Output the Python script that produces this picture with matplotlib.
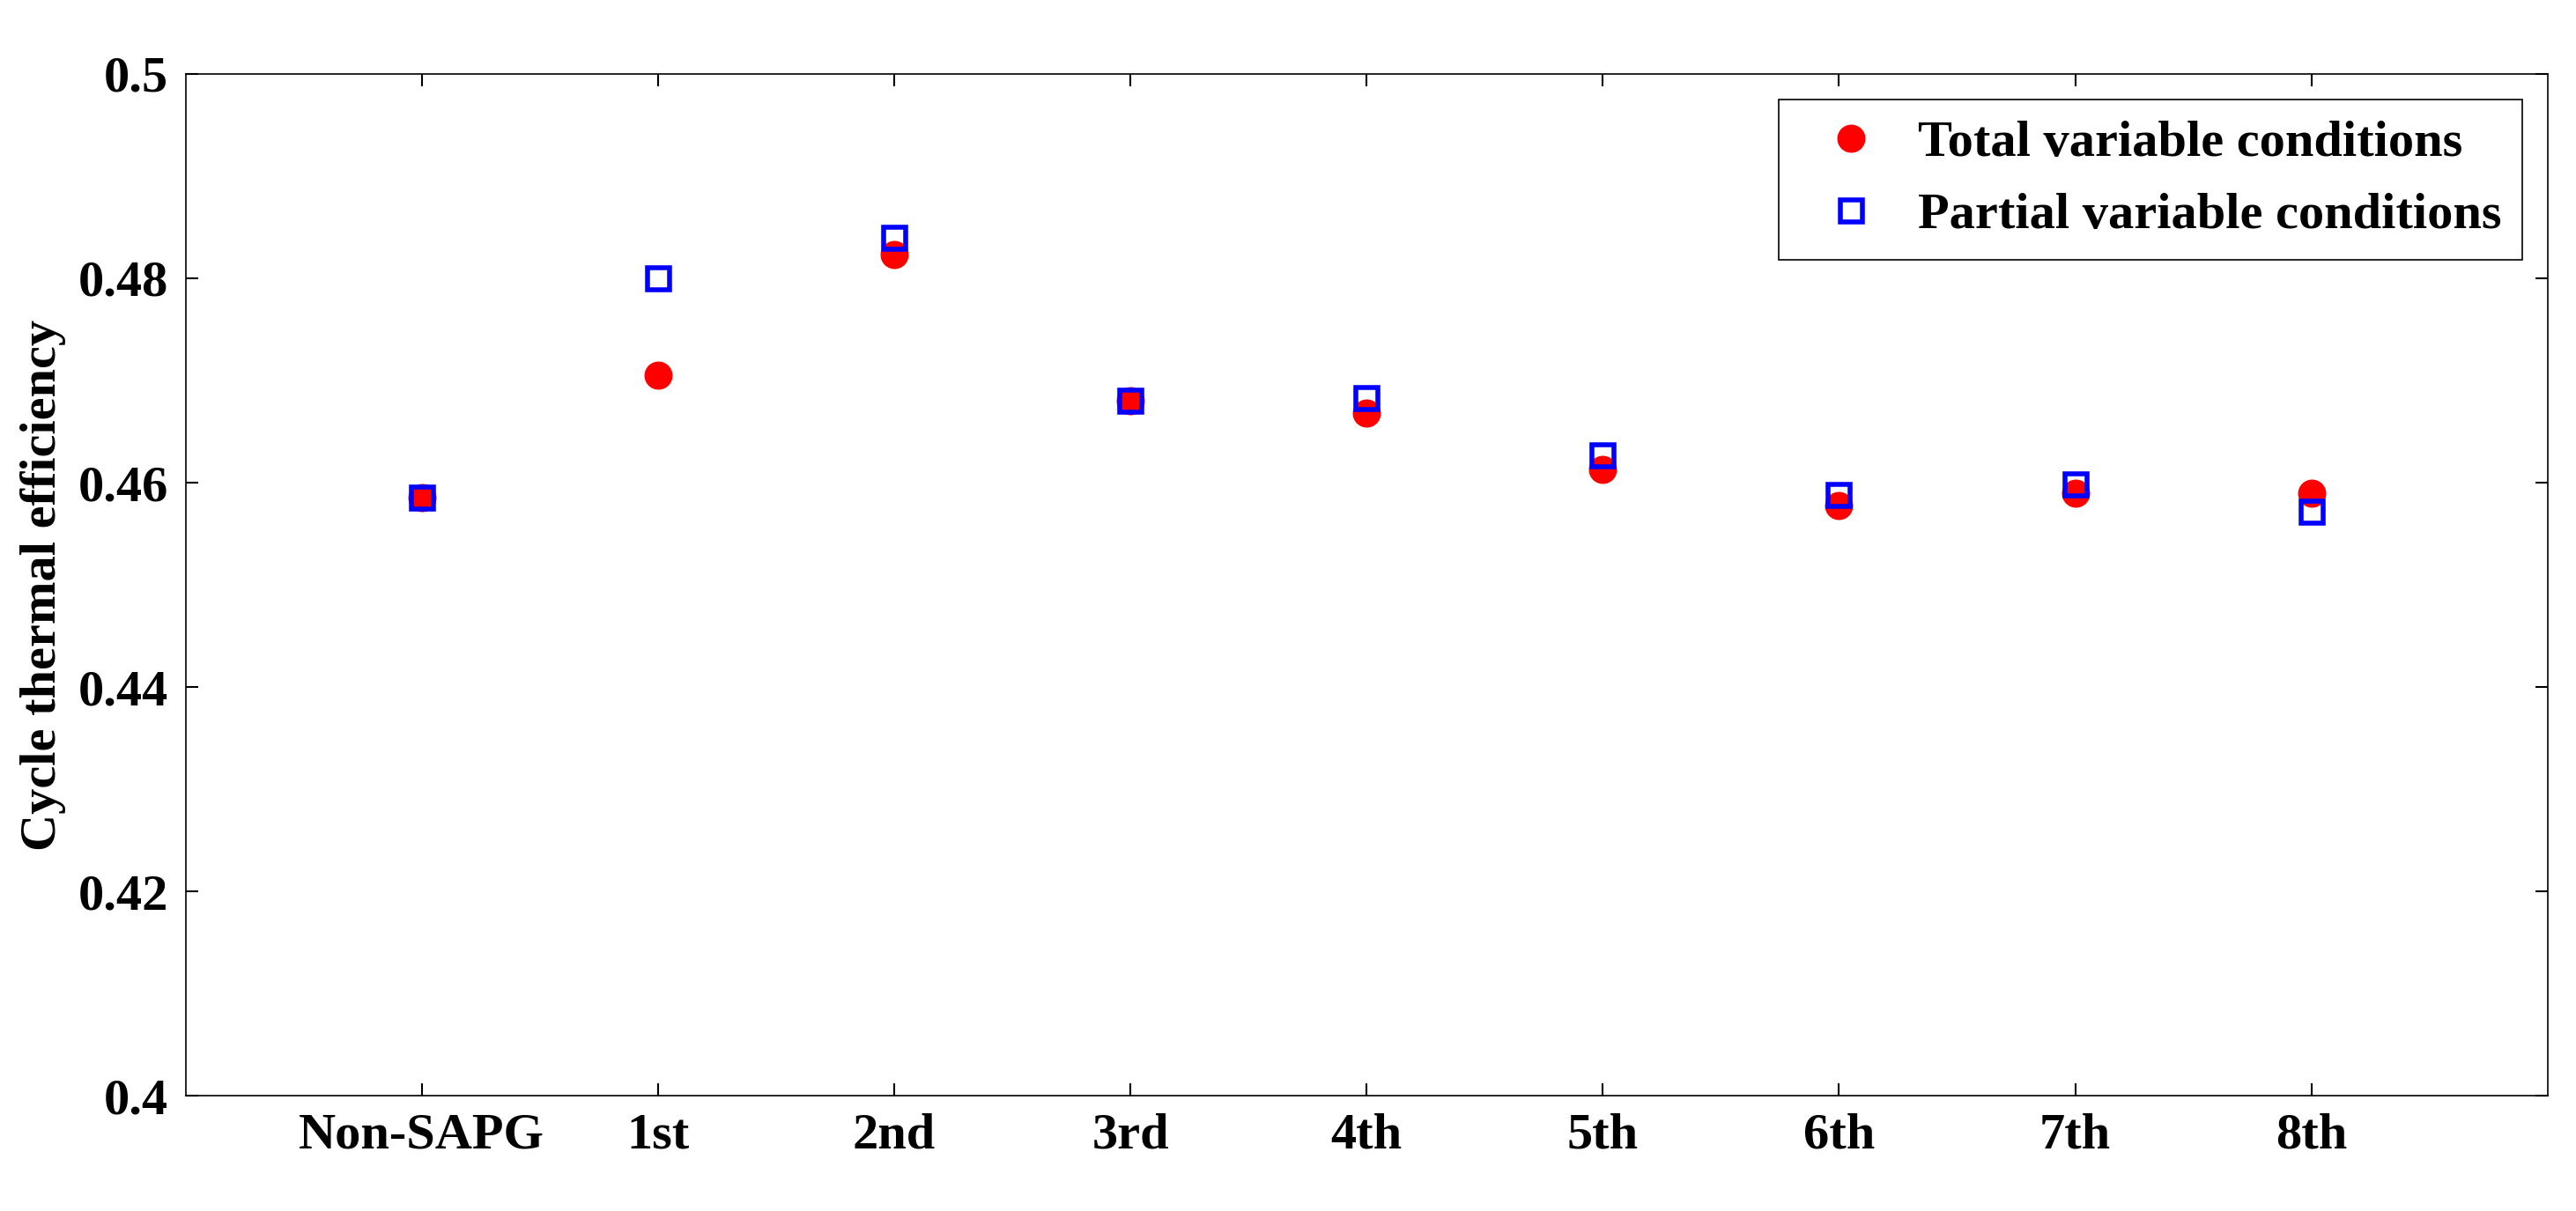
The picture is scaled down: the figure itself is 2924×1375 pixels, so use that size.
import matplotlib
matplotlib.use("Agg")
import matplotlib.pyplot as plt

categories = ["Non-SAPG", "1st", "2nd", "3rd", "4th", "5th", "6th", "7th", "8th"]
total = [0.4585, 0.4705, 0.4823, 0.4680, 0.4668, 0.4613, 0.4578, 0.4590, 0.4590]
partial = [0.4585, 0.4800, 0.4840, 0.4680, 0.4683, 0.4627, 0.4588, 0.4598, 0.4572]
yticks = [0.4, 0.42, 0.44, 0.46, 0.48, 0.5]
ytick_labels = ["0.4", "0.42", "0.44", "0.46", "0.48", "0.5"]

plt.rcParams['font.family'] = ['Liberation Serif', 'DejaVu Serif']
plt.rcParams['font.weight'] = 'bold'

fig = plt.figure(figsize=(29.24, 13.75), dpi=100)
ax = fig.add_axes([0.072, 0.095, 0.917, 0.844])
x = list(range(1, len(categories) + 1))
ax.plot(x, total, 'o', color='red', markersize=22, linestyle='none', label='Total variable conditions')
ax.plot(x, partial, 's', markerfacecolor='none', markeredgecolor='blue', markeredgewidth=4,
        markersize=18, linestyle='none', label='Partial variable conditions')
ax.set_xlim(0, 10)
ax.set_ylim(0.4, 0.5)
ax.set_xticks(x)
ax.set_xticklabels(categories, fontsize=42, fontweight='bold')
ax.set_yticks(yticks)
ax.set_yticklabels(ytick_labels, fontsize=42, fontweight='bold')
ax.tick_params(direction='in', top=True, right=True, length=10, width=1.5, pad=14)
for s in ax.spines.values():
    s.set_linewidth(1.2)
ax.set_ylabel('Cycle thermal efficiency', fontsize=42, fontweight='bold', labelpad=10)
leg = ax.legend(loc='upper right', fontsize=42, frameon=True, fancybox=False,
                edgecolor='black', framealpha=1, borderaxespad=0.5, handletextpad=0.3,
                prop={'size': 42, 'weight': 'bold'})
leg.get_frame().set_linewidth(1.2)
fig.savefig('out.png', dpi=100)
